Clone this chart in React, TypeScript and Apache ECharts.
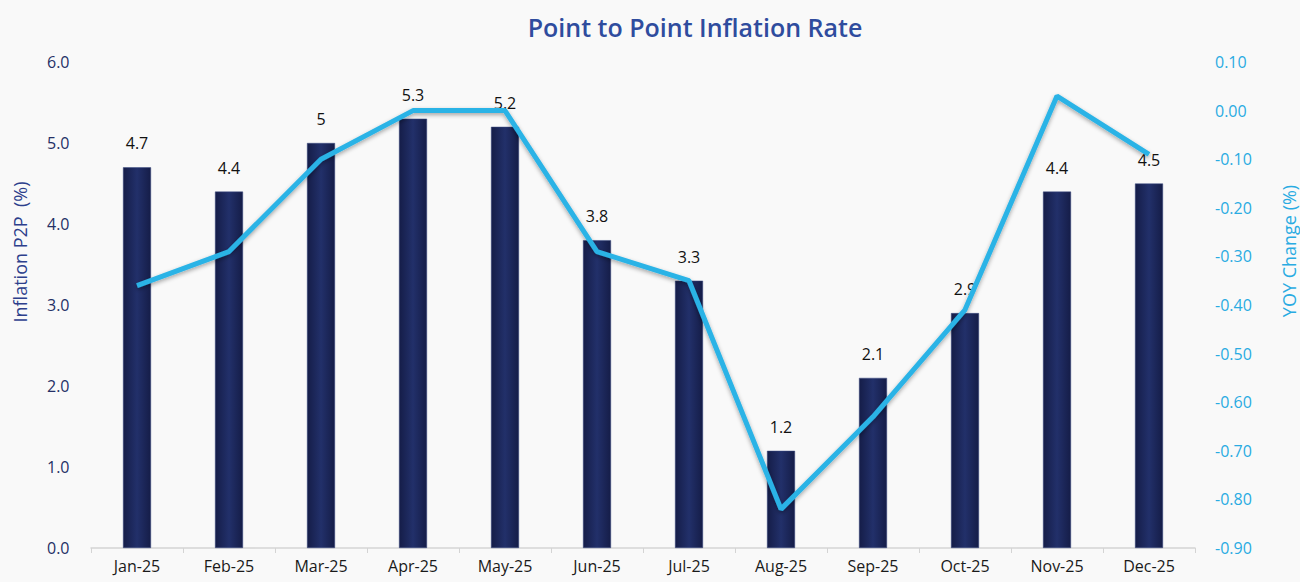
import React, { useEffect, useRef } from "react";
import * as echarts from "echarts";

const categories = ["Jan-25", "Feb-25", "Mar-25", "Apr-25", "May-25", "Jun-25", "Jul-25", "Aug-25", "Sep-25", "Oct-25", "Nov-25", "Dec-25"];
const inflationP2P = [4.7, 4.4, 5, 5.3, 5.2, 3.8, 3.3, 1.2, 2.1, 2.9, 4.4, 4.5];
const yoyChange = [-0.36, -0.29, -0.1, 0.0, 0.0, -0.29, -0.35, -0.82, -0.63, -0.41, 0.03, -0.09];

const FONT = "'Open Sans', 'Noto Sans', sans-serif";

export default function App() {
  const ref = useRef<HTMLDivElement>(null);
  useEffect(() => {
    if (!ref.current) return;
    const chart = echarts.init(ref.current, undefined, { renderer: "svg" });
    chart.setOption({
      animation: false,
      backgroundColor: "#f9f9f9",
      title: {
        text: "Point to Point Inflation Rate",
        left: 690,
        textAlign: "center",
        top: 9,
        textStyle: { color: "#2f4c9e", fontSize: 25, fontWeight: 600, fontFamily: FONT },
      },
      graphic: [
        {
          type: "text",
          x: 20,
          y: 252,
          rotation: Math.PI / 2,
          style: {
            text: "Inflation P2P  (%)",
            fill: "#2d3f8c",
            fontSize: 18,
            fontFamily: FONT,
            align: "center",
            verticalAlign: "middle",
          },
        },
        {
          type: "text",
          x: 1289,
          y: 251,
          rotation: Math.PI / 2,
          style: {
            text: "YOY Change (%)",
            fill: "#29abe2",
            fontSize: 18,
            fontFamily: FONT,
            align: "center",
            verticalAlign: "middle",
          },
        },
      ],
      grid: { left: 91, right: 105, top: 62, bottom: 34, containLabel: false },
      xAxis: {
        type: "category",
        data: categories,
        axisLine: { show: true, lineStyle: { color: "#d4d4d4", width: 1.5 } },
        axisTick: { show: true, length: 5, lineStyle: { color: "#d4d4d4" } },
        axisLabel: { color: "#1a1a1a", fontSize: 16, fontFamily: FONT, margin: 10 },
      },
      yAxis: [
        {
          type: "value",
          min: 0,
          max: 6,
          interval: 1,
          position: "left",
          axisLine: { show: false },
          axisTick: { show: false },
          splitLine: { show: false },
          axisLabel: {
            color: "#253066",
            fontSize: 16,
            fontFamily: FONT,
            margin: 44,
            align: "left",
            formatter: (v: number) => v.toFixed(1),
          },
        },
        {
          type: "value",
          min: -0.9,
          max: 0.1,
          interval: 0.1,
          position: "right",
          axisLine: { show: false },
          axisTick: { show: false },
          splitLine: { show: false },
          axisLabel: {
            color: "#29abe2",
            fontSize: 16,
            fontFamily: FONT,
            margin: 20,
            formatter: (v: number) => v.toFixed(2),
          },
        },
      ],
      series: [
        {
          type: "bar",
          data: inflationP2P,
          yAxisIndex: 0,
          barWidth: 28,
          itemStyle: {
            color: new echarts.graphic.LinearGradient(0, 0, 1, 0, [
              { offset: 0, color: "#151d48" },
              { offset: 0.5, color: "#22306a" },
              { offset: 1, color: "#151d48" },
            ]),
            borderColor: "#3a4a80",
            borderWidth: 0.5,
          },
          label: {
            show: true,
            position: "top",
            distance: 16,
            color: "#111111",
            fontSize: 16,
            fontFamily: FONT,
          },
        },
        {
          type: "line",
          data: yoyChange,
          yAxisIndex: 1,
          symbol: "none",
          lineStyle: {
            color: "#2bb3e6",
            width: 5,
            shadowColor: "rgba(0,0,0,0.35)",
            shadowBlur: 4,
            shadowOffsetY: 2,
          },
          z: 5,
        },
      ],
    });
    return () => chart.dispose();
  }, []);
  return <div ref={ref} style={{ position: "absolute", left: 0, top: 0, width: 1300, height: 582 }} />;
}
